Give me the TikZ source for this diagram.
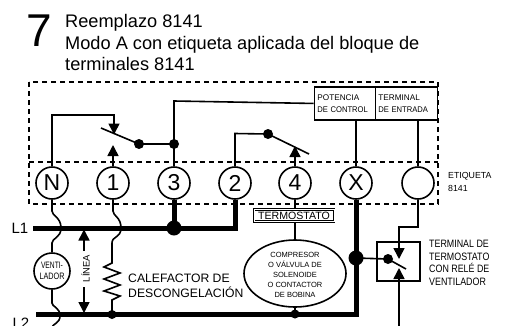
\documentclass[tikz,border=0pt]{standalone}
\usepackage{fontspec}
\setmainfont{Liberation Sans}
\usetikzlibrary{arrows.meta,calc,shapes.geometric}
\tikzset{
 wire/.style={draw=black,line width=1.6pt},
 thick wire/.style={draw=black,line width=5pt},
 term/.style={draw=black,circle,line width=1.6pt,minimum size=32pt,inner sep=0pt,fill=white,font=\fontsize{23}{23}\selectfont},
 dash box/.style={draw=black,line width=1.1pt,dash pattern=on 5pt off 4pt},
 arr/.style={wire,-{Triangle[length=11pt,width=11pt]}},
 dot/.style={circle,fill=black,inner sep=0pt,minimum size=#1},
 lab/.style={align=left,inner sep=0pt,anchor=west},
 hdr/.style={lab,font=\fontsize{18.2}{21.7}\selectfont},
 ctl/.style={draw,line width=1.9pt,minimum height=33pt,inner ysep=0pt,inner xsep=3pt,anchor=north west,align=left,font=\fontsize{8.2}{12.5}\selectfont},
}
\begin{document}
\begin{tikzpicture}[x=1pt,y=-1pt]
\useasboundingbox (0,0) rectangle (513,325);
\clip (0,0) rectangle (513,325);
\fill[white] (0,0) rectangle (513,325);
% header
\node[inner sep=0pt,font=\fontsize{46}{46}\selectfont] (seven) at (39.5,31) {7};
\node[hdr,anchor=base west] (title) at (65,27.3) {Reemplazo 8141};
\node[hdr,anchor=base west] (title2) at (65,49.3) {Modo A con etiqueta aplicada del bloque de};
\node[hdr,anchor=base west] (title3) at (65,70.7) {terminales 8141};
% dashed outline
\draw[dash box] (29,82) rectangle (438,204);
\draw[dash box] (29,162) -- (438,162);
% terminals
\node[term] (N) at (52,183) {N};
\node[term] (T1) at (113,183) {1};
\node[term] (T3) at (174,183) {3};
\node[term] (T2) at (235,183) {2};
\node[term] (T4) at (295,183) {4};
\node[term] (X) at (356,183) {X};
\node[term] (B) at (418,183) {};
% control boxes
\node[ctl,text width=55pt] (PC) at (313.5,86) {POTENCIA\\\scalebox{.93}[1]{DE CONTROL}};
\node[ctl,text width=56pt] (TE) at (374.5,86) {TERMINAL\\\scalebox{.93}[1]{DE ENTRADA}};
\node[lab,font=\fontsize{8.8}{13}\selectfont] (et) at (448,182) {ETIQUETA\\8141};
% left switch
\coordinate (s1a) at (101,128);
\node[dot=10pt] (d1) at (139,144) {};
\node[dot=10pt] (d3) at (174,144) {};
\draw[wire] (s1a) -- (d1.center) -- (d3.center);
\draw[wire] (T3.north) -- (d3.center) -- (174,101) -- (PC.west);
\draw[arr] (N.north) -- (52,115) -- (114,115) -- (114,134.5);
\draw[arr] (T1.north) -- (113,145);
% right switch
\node[dot=10pt] (d2) at (268,134) {};
\coordinate (s2a) at (309,154);
\draw[wire] (T2.north) -- (235,133.5) -- (d2.center) -- (s2a);
\draw[arr] (T4.north) -- (295,146);
\draw[wire] (X.north) -- (X.north |- PC.south);
\draw[wire] (B.north) -- (B.north |- TE.south);
% supply lines
\coordinate (L1a) at (33,228);
\coordinate (L2a) at (36,314.5);
\node[inner sep=0pt,font=\fontsize{15}{15}\selectfont] (L1) at (20,228) {L1};
\node[inner sep=0pt,font=\fontsize{15}{15}\selectfont] (L2) at (21,323) {L2};
\node[dot=15pt] (j3) at (174,228) {};
\draw[thick wire,line join=miter] (L1a) -- (235,228) -- (T2.south);
\draw[thick wire] (T3.south) -- (j3.center);
\node[dot=15pt] (jx) at (356,258) {};
\draw[thick wire,line join=miter] (L2a) -- (356,314.5) -- (X.south);
% fan
\node[draw,circle,line width=1.6pt,minimum size=36pt,inner sep=0pt,align=center,font=\fontsize{9.3}{11.5}\selectfont] (fan) at (52,271) {\scalebox{.72}[1]{VENTI-}\\\scalebox{.78}[1]{LADOR}};
\draw[wire] (N.south) -- (52,211) .. controls (52,216) and (61,217) .. (61,228) .. controls (61,238) and (52,238) .. (52,243) -- (fan.north);
\draw[wire] (fan.south) -- (52,303) .. controls (52,307) and (60,307) .. (60,316) .. controls (60,323) and (53,324) .. (52,327);
% heater
\node[dot=9pt] (jh) at (112,314.5) {};
\coordinate (hz1) at (112,263);
\coordinate (hz2) at (112,300);
\draw[wire] (T1.south) -- (113,211) .. controls (113,216) and (121,217) .. (121,228) .. controls (121,238) and (112,236) .. (112,243) -- (hz1)
 -- (104,267) -- (120,273) -- (104,279) -- (120,285) -- (104,291) -- (120,296) -- (hz2) -- (jh.center);
\node[lab,font=\fontsize{12.2}{15.5}\selectfont] (cal) at (128,286) {CALEFACTOR DE\\DESCONGELACIÓN};
% linea
\node[inner sep=2pt,rotate=90,font=\fontsize{9.4}{9.4}\selectfont] (lin) at (85.5,268.5) {LÍNEA};
\draw[arr] (84,251) -- (84,229.5);
\draw[arr] (84,287) -- (84,313);
% thermostat and load
\node[draw,double,double distance=.7pt,line width=.9pt,minimum width=80pt,minimum height=12pt,inner sep=0pt,fill=white,font=\fontsize{10.6}{10.6}\selectfont] (tm) at (294,215.5) {TERMOSTATO};
\draw[wire] (T4.south) -- (tm.north -| T4.south);
\node[draw,ellipse,line width=1.6pt,minimum width=102pt,minimum height=67pt,inner sep=0pt,fill=white] (load) at (295,273.5) {};
\node[inner sep=0pt,align=center,font=\fontsize{7.5}{10}\selectfont] (loadtxt) at (295,275) {COMPRESOR\\O VÁLVULA DE\\SOLENOIDE\\O CONTACTOR\\DE BOBINA};
\draw[wire] (tm.south -| load.north) -- (load.north);
\node[dot=9pt] (jl) at (295,314) {};
\draw[wire] (load.south) -- (jl.center);
% fan relay
\node[draw,line width=1.9pt,minimum width=43pt,minimum height=39pt,inner sep=0pt,anchor=north west] (rel) at (376,241) {};
\node[dot=10pt] (d4) at (388,259) {};
\coordinate (s3a) at (406,269);
\draw[wire] (jx.center) -- (d4.center) -- (s3a);
\draw[arr] (B.south) -- (418,227) -- (399,227) -- (399,259);
\coordinate (free) at (399,327);
\draw[arr] (free) -- (399,268);
\node[lab,font=\fontsize{10.7}{12.7}\selectfont] (tt) at (429,263) {\scalebox{.83}[1]{TERMINAL DE}\\\scalebox{.83}[1]{TERMOSTATO}\\\scalebox{.83}[1]{CON RELÉ DE}\\\scalebox{.83}[1]{VENTILADOR}};
\end{tikzpicture}
\end{document}
